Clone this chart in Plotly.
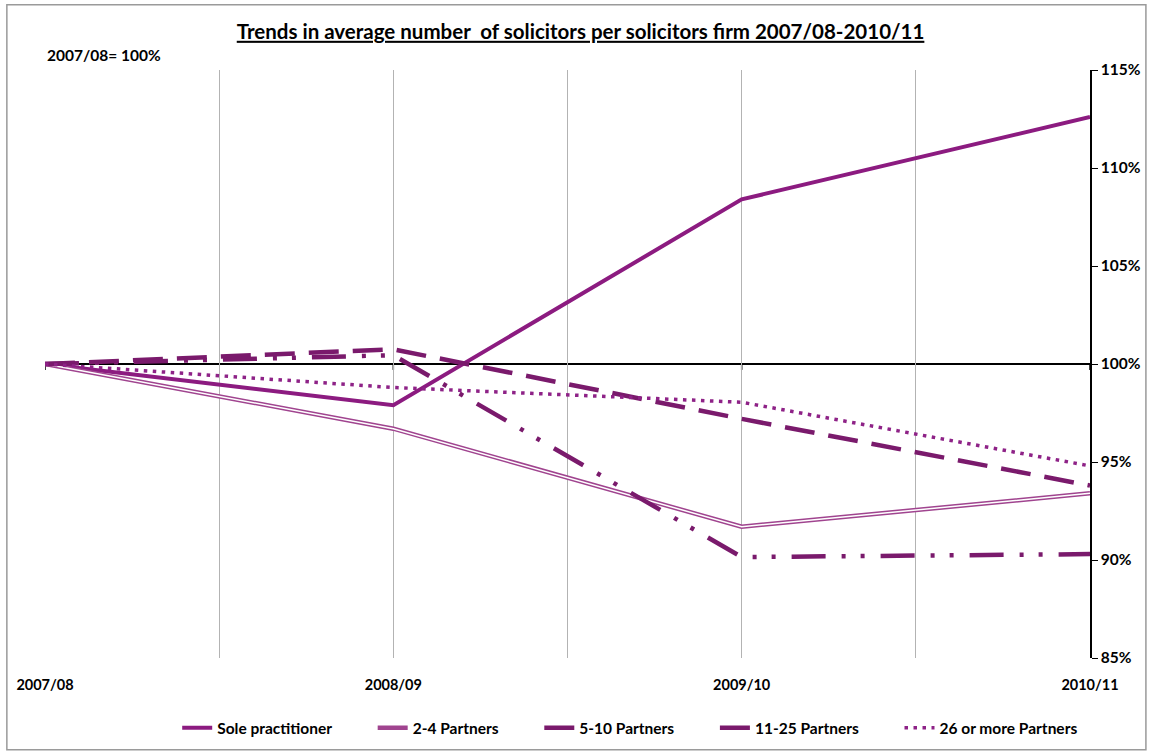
import plotly.graph_objects as go

years = ["2007/08", "2008/09", "2009/10", "2010/11"]

sole_practitioner = [100.0, 97.9, 108.4, 112.6]
partners_2_4 = [100.0, 96.7, 91.7, 93.4]
partners_5_10 = [100.0, 100.75, 97.2, 93.8]
partners_11_25 = [100.0, 100.45, 90.15, 90.3]
partners_26_plus = [100.0, 98.8, 98.05, 94.8]

y_ticks = [85, 90, 95, 100, 105, 110, 115]

xpos = list(range(len(years)))
FONT = "Lato, 'Open Sans', Arial, sans-serif"
PAD = "\u00a0" * 9


def legend_name(s):
    return "<b>" + s + "</b>" + PAD


fig = go.Figure()

fig.add_trace(go.Scatter(
    x=xpos, y=sole_practitioner, mode="lines",
    name=legend_name("Sole practitioner"),
    line=dict(color="#8C1B80", width=4)))

# 2-4 Partners: a double line (coloured outline with a white core)
fig.add_trace(go.Scatter(
    x=xpos, y=partners_2_4, mode="lines", name=legend_name("2-4 Partners"),
    legendgroup="p24",
    line=dict(color="#A0448F", width=4.5)))
fig.add_trace(go.Scatter(
    x=xpos, y=partners_2_4, mode="lines", name="2-4 Partners",
    legendgroup="p24", showlegend=False, hoverinfo="skip",
    line=dict(color="white", width=1.5)))

fig.add_trace(go.Scatter(
    x=xpos, y=partners_5_10, mode="lines", name=legend_name("5-10 Partners"),
    line=dict(color="#7A1A6C", width=4.5, dash="30px,14px")))

fig.add_trace(go.Scatter(
    x=xpos, y=partners_11_25, mode="lines", name=legend_name("11-25 Partners"),
    line=dict(color="#7A1A6C", width=4.5,
              dash="34px,16px,4px,15px,4px,16px")))

fig.add_trace(go.Scatter(
    x=xpos, y=partners_26_plus, mode="lines",
    name="<b>26 or more Partners</b>",
    line=dict(color="#8E2287", width=3.5, dash="3.5px,5.5px")))

# horizontal axis line at the 100% base
fig.add_shape(type="line", xref="x", yref="y", x0=0, x1=3, y0=100, y1=100,
              line=dict(color="black", width=2), layer="below")
for xv in xpos:
    fig.add_shape(type="line", xref="x", yref="y", x0=xv, x1=xv,
                  y0=100, y1=99.7, line=dict(color="black", width=1.5),
                  layer="below")

# outer chart frame
fig.add_shape(type="rect", xref="paper", yref="paper",
              x0=-0.0365, x1=1.0535, y0=-0.156, y1=1.111,
              line=dict(color="#9A9A9A", width=1.5))

fig.update_layout(
    width=1149, height=753,
    margin=dict(l=45, r=59, t=70, b=95, autoexpand=False),
    paper_bgcolor="white", plot_bgcolor="white",
    font=dict(family=FONT, color="black"),
    title=dict(
        text="<b><u>Trends in average number  of solicitors per solicitors firm 2007/08-2010/11</u></b>",
        x=0.5125, xref="paper", xanchor="center", y=0.958, yanchor="middle",
        font=dict(size=20.5, family=FONT)),
    showlegend=True,
    legend=dict(orientation="h", x=0.56, xanchor="center",
                yref="container", y=0.033, yanchor="middle",
                font=dict(size=15.5, family=FONT),
                itemwidth=30, tracegroupgap=0),
    xaxis=dict(
        range=[0, 3], tickmode="array",
        tickvals=[0, 0.5, 1, 1.5, 2, 2.5, 3],
        ticktext=["<b>" + years[0] + "</b>", "", "<b>" + years[1] + "</b>", "",
                  "<b>" + years[2] + "</b>", "", "<b>" + years[3] + "</b>"],
        showgrid=True, gridcolor="#B3B3B3", gridwidth=1,
        zeroline=False, showline=False, ticks="",
        tickfont=dict(size=14.5, family=FONT), ticklabelstandoff=16),
    yaxis=dict(
        range=[85, 115], side="right", tickmode="array", tickvals=y_ticks,
        ticktext=["<b>%d%%</b>" % v for v in y_ticks],
        showgrid=False, zeroline=False, showline=True, linecolor="black",
        linewidth=1.5, ticks="outside", ticklen=6, tickcolor="black",
        tickfont=dict(size=15.5, family=FONT)),
    annotations=[dict(
        text="<b>2007/08= 100%</b>", xref="paper", yref="paper",
        x=0.0, y=1.026, xanchor="left", yanchor="middle", showarrow=False,
        font=dict(size=15.5, family=FONT))],
)

fig.write_html("out.html")
